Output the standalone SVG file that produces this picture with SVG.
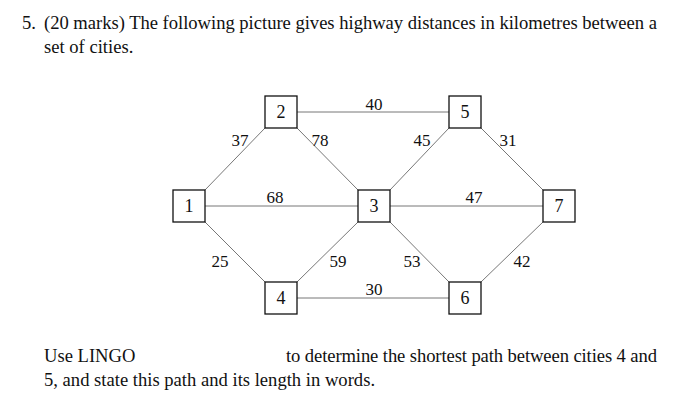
<svg xmlns="http://www.w3.org/2000/svg" width="700" height="412" viewBox="0 0 700 412">
<style>
text{font-family:"Liberation Serif",serif;font-size:17px;fill:#111}
.b{font-size:18.6px}
.n rect{fill:#fff;stroke:#111;stroke-width:1.3}
.n text{text-anchor:middle;font-size:18px}
#edges line{stroke:#777;stroke-width:1}
.l{text-anchor:middle}
</style>
<rect width="700" height="412" fill="#fff"/>
<text class="b" x="22" y="29">5.</text>
<text class="b" x="44" y="29" textLength="613">(20 marks) The following picture gives highway distances in kilometres between a</text>
<text class="b" x="44" y="53">set of cities.</text>
<g id="edges">
<line x1="205" y1="190" x2="265" y2="128"/>
<line x1="205" y1="206" x2="358" y2="206"/>
<line x1="205" y1="222" x2="265" y2="282"/>
<line x1="297" y1="112" x2="449" y2="112"/>
<line x1="297" y1="128" x2="358" y2="190"/>
<line x1="297" y1="298" x2="449" y2="298"/>
<line x1="297" y1="282" x2="358" y2="222"/>
<line x1="390" y1="190" x2="449" y2="128"/>
<line x1="390" y1="206" x2="543" y2="206"/>
<line x1="390" y1="222" x2="449" y2="282"/>
<line x1="481" y1="128" x2="543" y2="190"/>
<line x1="481" y1="282" x2="543" y2="222"/>
</g>
<g id="labels">
<text class="l" x="240" y="146">37</text>
<text class="l" x="320" y="146">78</text>
<text class="l" x="374" y="110">40</text>
<text class="l" x="422" y="146">45</text>
<text class="l" x="508" y="146">31</text>
<text class="l" x="275" y="203">68</text>
<text class="l" x="474" y="203">47</text>
<text class="l" x="220" y="267">25</text>
<text class="l" x="338" y="267">59</text>
<text class="l" x="412" y="267">53</text>
<text class="l" x="522" y="267">42</text>
<text class="l" x="374" y="295">30</text>
</g>
<g id="n1" class="n"><rect x="173" y="190" width="32" height="32"/><text x="189" y="212">1</text></g>
<g id="n2" class="n"><rect x="265" y="96" width="32" height="32"/><text x="281" y="118">2</text></g>
<g id="n5" class="n"><rect x="449" y="96" width="32" height="32"/><text x="465" y="118">5</text></g>
<g id="n3" class="n"><rect x="358" y="190" width="32" height="32"/><text x="374" y="212">3</text></g>
<g id="n7" class="n"><rect x="543" y="190" width="32" height="32"/><text x="559" y="212">7</text></g>
<g id="n4" class="n"><rect x="265" y="282" width="32" height="32"/><text x="281" y="304">4</text></g>
<g id="n6" class="n"><rect x="449" y="282" width="32" height="32"/><text x="465" y="304">6</text></g>
<text class="b" x="44" y="362">Use LINGO</text>
<text class="b" x="286" y="362" textLength="371">to determine the shortest path between cities 4 and</text>
<text class="b" x="44" y="386">5, and state this path and its length in words.</text>
</svg>
